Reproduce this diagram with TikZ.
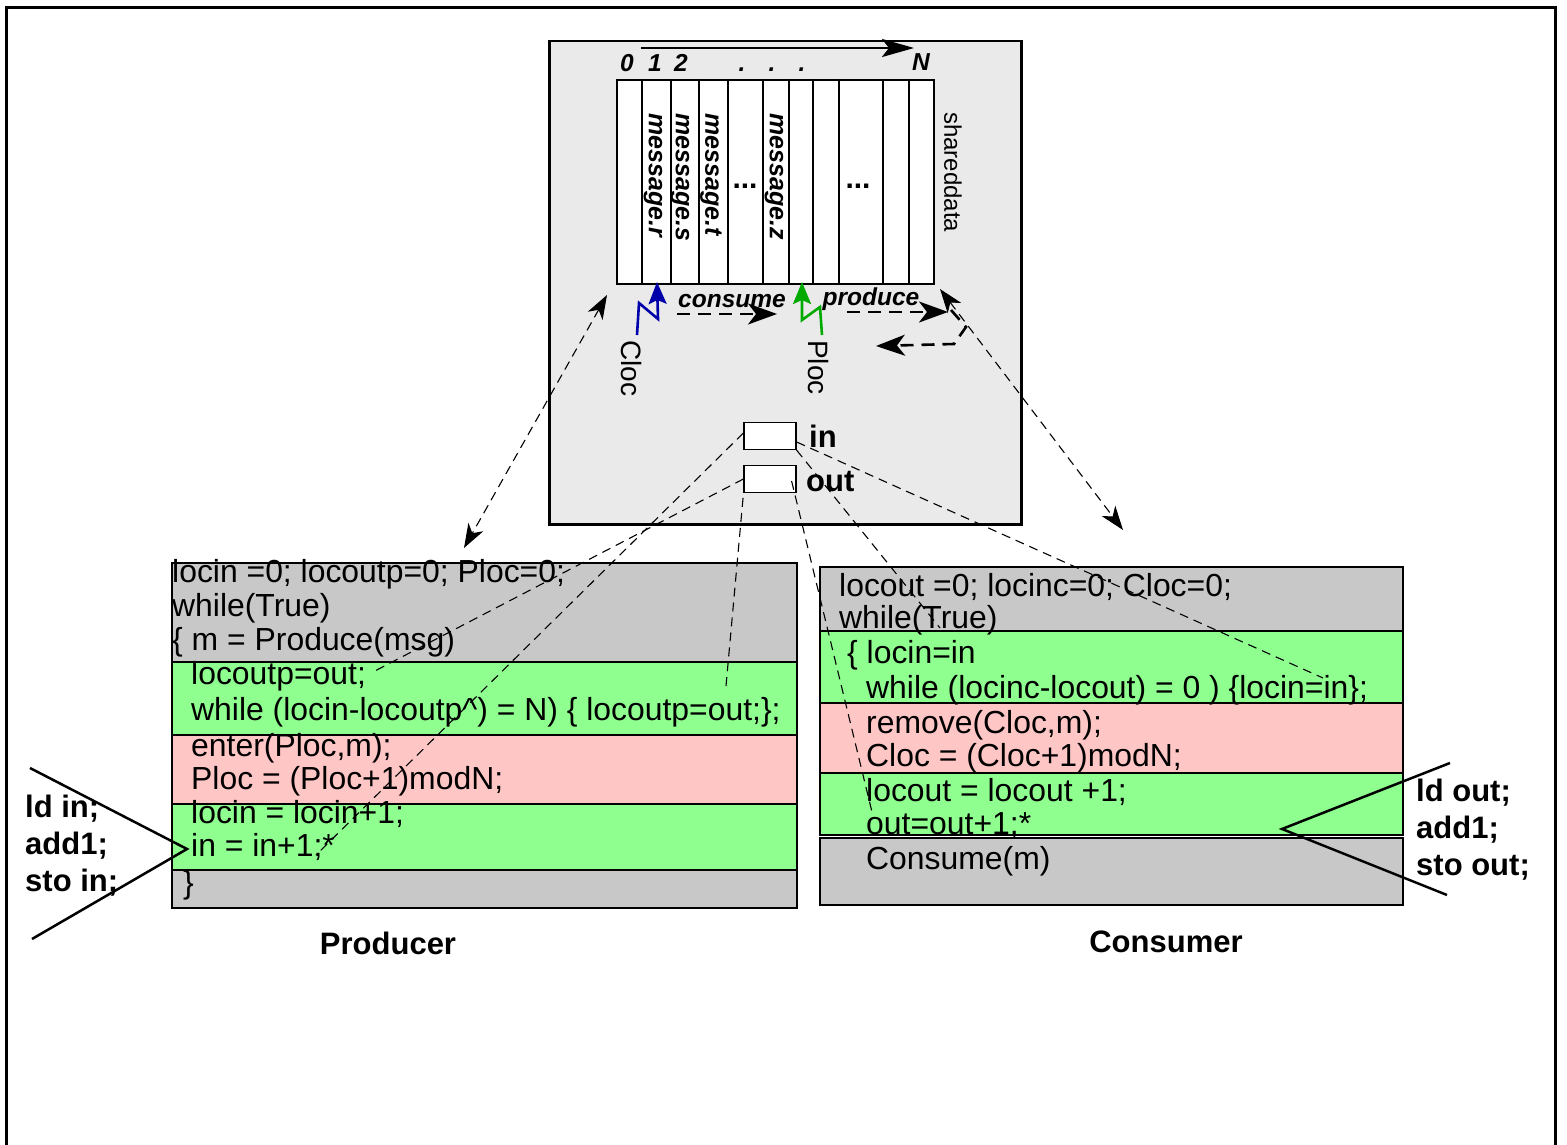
\documentclass[tikz,border=0pt]{standalone}
\usepackage{fontspec}
\setmainfont{Liberation Sans}
\usetikzlibrary{arrows.meta,calc}
\definecolor{boxgray}{RGB}{234,234,234}
\definecolor{rowgray}{RGB}{200,200,200}
\definecolor{rowgreen}{RGB}{143,255,143}
\definecolor{rowpink}{RGB}{255,198,198}
\definecolor{cblue}{RGB}{0,0,170}
\definecolor{cgreen}{RGB}{0,170,0}
\begin{document}
\begin{tikzpicture}[x=1pt,y=-1pt,
  code/.style={anchor=base west, inner sep=0pt, font=\fontsize{31.9}{34}\selectfont},
  bl/.style={inner sep=0pt, font=\fontsize{31}{37}\selectfont\bfseries},
  msg/.style={rotate=-90, anchor=west, inner sep=0pt, font=\fontsize{25}{28}\selectfont\bfseries\itshape},
  idx/.style={anchor=base, inner sep=0pt, font=\fontsize{24.5}{28}\selectfont\bfseries\itshape},
  vlab/.style={rotate=-90, anchor=west, inner sep=0pt},
  rowbox/.style={draw, line width=2pt, anchor=north west, inner sep=0pt, outer sep=0pt},
  valbox/.style={draw, line width=1.2pt, fill=white, inner sep=0pt, minimum width=52pt, minimum height=27pt},
  thindash/.style={dash pattern=on 9pt off 6pt, line width=1.1pt},
  thickdash/.style={dash pattern=on 13pt off 8pt, line width=2.6pt},
  bigtip/.style={-{Stealth[length=29pt,width=21pt,inset=8pt]}},
  dbltip/.style={{Stealth[length=24pt,width=17pt,inset=7pt]}-{Stealth[length=24pt,width=17pt,inset=7pt]}},
  bolt/.style={line width=2.6pt, -{Stealth[length=22pt,width=18pt,inset=4pt]}},
  crossline/.style={line width=2.5pt}
]
\useasboundingbox (0,0) rectangle (1567,1145);
\fill[white] (0,0) rectangle (1567,1145);
% outer frame
\draw[line width=3pt] (6,1145) -- (6,8) -- (1555,8) -- (1555,1145);

% shared data box
\node[draw, line width=2.5pt, fill=boxgray, anchor=north west, inner sep=0pt,
      minimum width=472pt, minimum height=483pt] (shared) at (548,40) {};

% buffer
\node[draw, line width=2pt, fill=white, anchor=north west, inner sep=0pt,
      minimum width=317pt, minimum height=204pt] (buf) at (616,79) {};
\foreach \x in {642,671,699,728,763,789,813,839,883,909}
  \draw[line width=2pt] (\x,79) -- (\x,283);

% index arrow and labels
\coordinate (ia) at (641,48);
\coordinate (ib) at (914,48);
\draw[line width=2.8pt, -{Stealth[length=32pt,width=18pt,inset=7pt]}] (ia) -- (ib);
\node[idx] (i0) at (627,72) {0};
\node[idx] (i1) at (655,72) {1};
\node[idx] (i2) at (681,72) {2};
\node[idx] (d1) at (742,72) {.};
\node[idx] (d2) at (772,72) {.};
\node[idx] (d3) at (802,72) {.};
\node[idx] (iN) at (921,71) {N};

% messages
\node[msg] (mr) at (653,113) {message.r};
\node[msg] (ms) at (680,113) {message.s};
\node[msg] (mt) at (711,113) {message.t};
\node[msg] (mz) at (774,113) {message.z};
\node[idx, font=\fontsize{30}{32}\selectfont\bfseries] (e1) at (745,189) {...};
\node[idx, font=\fontsize{30}{32}\selectfont\bfseries] (e2) at (858,189) {...};
\node[vlab, font=\fontsize{24}{28}\selectfont] (shd) at (953,112) {shareddata};

% consume / produce
\node[idx] (consl) at (732,307) {consume};
\node[idx] (prodl) at (871,305) {produce};
\coordinate (ca) at (677,314);
\coordinate (cb) at (777,314);
\draw[thickdash, bigtip] (ca) -- (cb);
\coordinate (pa) at (847,312);
\coordinate (pb) at (948,312);
\draw[thickdash, bigtip] (pa) -- (pb);
\coordinate (wa) at (951,310);
\coordinate (wb) at (966,327);
\coordinate (wc) at (954,344);
\coordinate (wd) at (876,346);
\draw[thickdash, bigtip] (wa) -- (wb) -- (wc) -- (wd);

% Cloc / Ploc bolts
\node[vlab, font=\fontsize{28}{30}\selectfont] (cloc) at (632,340) {Cloc};
\node[vlab, font=\fontsize{28}{30}\selectfont] (ploc) at (818,340) {Ploc};
\coordinate (cb1) at (637,335);
\coordinate (cb2) at (639,303);
\coordinate (cb3) at (658,319);
\coordinate (cb4) at (657,282);
\draw[bolt, cblue] (cb1) -- (cb2) -- (cb3) -- (cb4);
\coordinate (gb1) at (822,335);
\coordinate (gb2) at (820,307);
\coordinate (gb3) at (802,320);
\coordinate (gb4) at (802,282);
\draw[bolt, cgreen] (gb1) -- (gb2) -- (gb3) -- (gb4);

% in / out
\node[valbox] (inbox) at (770,436) {};
\node[valbox] (outbox) at (770,479) {};
\node[bl, anchor=base west] (inl) at (809,447) {in};
\node[bl, anchor=base west] (outl) at (806,491) {out};

% producer rows
\node[rowbox, fill=rowgray, minimum width=625pt, minimum height=99pt] (p1) at (172,563) {};
\node[rowbox, fill=rowgreen, minimum width=625pt, minimum height=73pt] (p2) at (172,662) {};
\node[rowbox, fill=rowpink, minimum width=625pt, minimum height=69pt] (p3) at (172,735) {};
\node[rowbox, fill=rowgreen, minimum width=625pt, minimum height=66pt] (p4) at (172,804) {};
\node[rowbox, fill=rowgray, minimum width=625pt, minimum height=38pt] (p5) at (172,870) {};

\node[code] (pt1) at (172,582) {locin =0; locoutp=0; Ploc=0;};
\node[code] (pt2) at (172,616) {while(True)};
\node[code] (pt3) at (172,650) {\{ m = Produce(msg)};
\node[code] (pt4) at (191,684) {locoutp=out;};
\node[code] (pt5) at (191,720) {while (locin-locoutp\textasciicircum) = N) \{ locoutp=out;\};};
\node[code] (pt6) at (191,756) {enter(Ploc,m);};
\node[code] (pt7) at (191,789) {Ploc = (Ploc+1)modN;};
\node[code] (pt8) at (191,823) {locin = locin+1;};
\node[code] (pt9) at (191,856) {in = in+1;*};
\node[code] (pt10) at (183,893) {\}};

% consumer rows
\node[rowbox, fill=rowgray, minimum width=583pt, minimum height=64pt] (c1) at (820,567) {};
\node[rowbox, fill=rowgreen, minimum width=583pt, minimum height=72pt] (c2) at (820,631) {};
\node[rowbox, fill=rowpink, minimum width=583pt, minimum height=70pt] (c3) at (820,703) {};
\node[rowbox, fill=rowgreen, minimum width=583pt, minimum height=62pt] (c4) at (820,773) {};
\node[rowbox, fill=rowgray, minimum width=583pt, minimum height=67pt] (c5) at (820,838) {};

\node[code] (ct1) at (839,596) {locout =0; locinc=0; Cloc=0;};
\node[code] (ct2) at (839,628) {while(True)};
\node[code] (ct3) at (847,663) {\{ locin=in};
\node[code] (ct4) at (866,698) {while (locinc-locout) = 0 ) \{locin=in\};};
\node[code] (ct5) at (866,733) {remove(Cloc,m);};
\node[code] (ct6) at (866,766) {Cloc = (Cloc+1)modN;};
\node[code] (ct7) at (866,801) {locout = locout +1;};
\node[code] (ct8) at (866,834) {out=out+1;*};
\node[code] (ct9) at (866,869) {Consume(m)};

% labels
\node[bl, anchor=base] (prod) at (388,954) {Producer};
\node[bl, anchor=base] (cons) at (1166,952) {Consumer};
\node[bl, anchor=west, align=left] (ldin) at (25,846) {ld in;\\add1;\\sto in;};
\node[bl, anchor=west, align=left] (ldout) at (1416,830) {ld out;\\add1;\\sto out;};

% long dashed double arrows
\coordinate (la1) at (607,295);
\coordinate (la2) at (464,548);
\draw[thindash, dbltip] (la1) -- (la2);
\coordinate (ra1) at (940,289);
\coordinate (ra2) at (1123,530);
\draw[thindash, dbltip] (ra1) -- (ra2);

% dashed links from in/out
\coordinate (e_pin) at (316,855);
\coordinate (e_pout) at (371,673);
\coordinate (e_pout2) at (726,686);
\coordinate (e_cout) at (872,812);
\coordinate (e_cin1) at (940,628);
\coordinate (e_cin2) at (1323,678);
\draw[thindash] ($(inbox.west)+(0,-3)$) -- (e_pin);
\draw[thindash] (outbox.west) -- (e_pout);
\draw[thindash] ($(outbox.west)+(1,4)$) -- (e_pout2);
\draw[thindash] ($(outbox.east)+(-5,2)$) -- (e_cout);
\draw[thindash] (inbox.south east) -- (e_cin1);
\draw[thindash] ($(inbox.east)+(0,6)$) -- (e_cin2);

% crosses
\coordinate (lx1) at (30,768);
\coordinate (lx2) at (187,849);
\coordinate (lx3) at (32,939);
\draw[crossline] (lx1) -- (lx2) -- (lx3);
\coordinate (rx1) at (1450,763);
\coordinate (rx2) at (1282,829);
\coordinate (rx3) at (1447,895);
\draw[crossline] (rx1) -- (rx2) -- (rx3);
\end{tikzpicture}
\end{document}
